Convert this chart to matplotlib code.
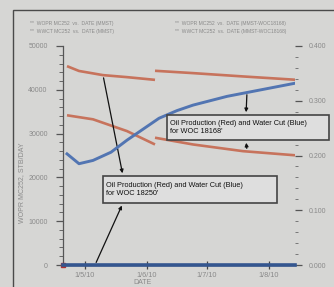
import matplotlib
matplotlib.use("Agg")
import matplotlib.pyplot as plt
import matplotlib.patches as mpatches
import pandas as pd
import numpy as np

W, H = 334, 287
plt.rcParams['font.family'] = ['Liberation Sans', 'DejaVu Sans']

# ---------------- data ----------------
# WOC 18250: oil production (two segments), water cut ~0
oil_a1_dates = ["2010-04-22", "2010-04-28", "2010-05-10", "2010-05-22", "2010-06-05"]
oil_a1 = [45400, 44300, 43350, 42890, 42270]
oil_a2_dates = ["2010-06-05", "2010-06-24", "2010-07-19", "2010-08-14"]
oil_a2 = [44340, 43810, 43050, 42300]
wct_a_dates = ["2010-04-20", "2010-08-14"]
wct_a = [0.0, 0.0]

# WOC 18168: oil production (two segments), rising water cut
oil_b1_dates = ["2010-04-22", "2010-05-05", "2010-05-22", "2010-06-05"]
oil_b1 = [34180, 33260, 30570, 27520]
oil_b2_dates = ["2010-06-05", "2010-06-24", "2010-07-19", "2010-08-14"]
oil_b2 = [29060, 27520, 25990, 25050]
wct_b_dates = ["2010-04-22", "2010-04-28", "2010-05-05", "2010-05-14", "2010-05-22",
               "2010-05-30", "2010-06-07", "2010-06-16", "2010-06-24", "2010-07-11",
               "2010-07-28", "2010-08-14"]
wct_b = [0.203, 0.185, 0.191, 0.206, 0.228, 0.248, 0.268, 0.282, 0.292, 0.308, 0.320, 0.332]

start_point_date = ["2010-04-20"]
start_point_val = [0]

xtick_dates = ["2010-05-01", "2010-06-01", "2010-07-01", "2010-08-01"]
xtick_labels = ["1/5/10", "1/6/10", "1/7/10", "1/8/10"]
left_ticks = [0, 10000, 20000, 30000, 40000, 50000]
left_labels = ["0", "10000", "20000", "30000", "40000", "50000"]
right_ticks = [0.0, 0.1, 0.2, 0.3, 0.4]
right_labels = ["0.000", "0.100", "0.200", "0.300", "0.400"]

legend_entries = ["**  WOPR MC252  vs.  DATE (MMST)",
                  "**  WWCT MC252  vs.  DATE (MMST)",
                  "**  WOPR MC252  vs.  DATE (MMST-WOC18168)",
                  "**  WWCT MC252  vs.  DATE (MMST-WOC18168)"]
box1_text = "Oil Production (Red) and Water Cut (Blue)\nfor WOC 18168'"
box2_text = "Oil Production (Red) and Water Cut (Blue)\nfor WOC 18250'"

d = lambda s: pd.to_datetime(s)

# ---------------- figure ----------------
bg = "#d6d6d4"
fig = plt.figure(figsize=(W / 100, H / 100), dpi=100, facecolor=bg)

def fx(x):
    return x / W

def fy(y):
    return 1 - y / H

ax_l, ax_r, ax_t, ax_b = 63, 295, 46, 265
ax = fig.add_axes([fx(ax_l), fy(ax_b), (ax_r - ax_l) / W, (ax_b - ax_t) / H])
ax.set_facecolor(bg)
ax2 = ax.twinx()

red = "#c7735c"
blue = "#5275b2"
tick_col = "#8a8a8a"

for dates, vals in ((oil_a1_dates, oil_a1), (oil_a2_dates, oil_a2),
                    (oil_b1_dates, oil_b1), (oil_b2_dates, oil_b2)):
    ax.plot(d(dates), vals, color=red, lw=1.9, solid_capstyle='butt', zorder=3)
ax.plot(d(start_point_date), start_point_val, 's', color="#b03030", ms=2.5, zorder=6, clip_on=False)
ax2.plot(d(wct_b_dates), wct_b, color=blue, lw=2.1, zorder=3)
ax2.plot(d(wct_a_dates), wct_a, color="#34568f", lw=2.6, zorder=5, clip_on=False)

ax.set_xlim(d("2010-04-20"), d("2010-08-14"))
ax.set_ylim(0, 50000)
ax2.set_ylim(0, 0.4)

ax.set_xticks(d(xtick_dates))
ax.set_xticklabels(xtick_labels)
ax.set_yticks(left_ticks)
ax.set_yticklabels(left_labels)
ax.set_yticks(np.arange(0, 50001, 2000), minor=True)
ax2.set_yticks(right_ticks)
ax2.set_yticklabels(right_labels)
ax2.set_yticks(np.arange(0, 0.4001, 0.02), minor=True)

for a in (ax, ax2):
    for s in a.spines.values():
        s.set_visible(False)
ax.spines['left'].set_visible(True)
ax.spines['left'].set_color("#555555")
ax.spines['left'].set_linewidth(0.9)
ax.spines['bottom'].set_visible(True)
ax.spines['bottom'].set_color("#333333")
ax.spines['bottom'].set_linewidth(1.0)

ax.tick_params(axis='y', which='major', direction='out', length=5, width=0.9,
               color="#555555", labelsize=5, labelcolor=tick_col, pad=6)
ax.tick_params(axis='y', which='minor', direction='out', length=3, width=0.7, color="#666666")
ax.tick_params(axis='x', which='major', direction='inout', length=6, width=0.9,
               color="#444444", labelsize=5.3, labelcolor=tick_col, pad=2)
ax.tick_params(axis='x', which='minor', length=0)
ax2.tick_params(axis='y', which='major', direction='out', length=5, width=0.9,
                color="#555555", labelsize=5, labelcolor=tick_col, pad=5)
ax2.tick_params(axis='y', which='minor', direction='out', length=2, width=0.7, color="#777777")

# axis titles
fig.text(fx(22), fy(183), "WOPR MC252, STB/DAY", rotation=90, ha='center', va='center',
         fontsize=5, color=tick_col)
fig.text(fx(143), fy(283), "DATE", ha='center', va='center', fontsize=5, color=tick_col)

# legend text
leg_pos = [(30, 23), (30, 31), (175, 23), (175, 31)]
for (lx, ly), t in zip(leg_pos, legend_entries):
    fig.text(fx(lx), fy(ly), t, ha='left', va='center', fontsize=3.6, color="#8a8a8a")

# outer frame (extends beyond the right and bottom edges)
frame = mpatches.Rectangle((fx(13), fy(400)), fx(500) - fx(13), fy(10) - fy(400),
                           transform=fig.transFigure, fill=False, ec="#4a4a4a", lw=1.0)
fig.patches.append(frame)

# annotation boxes
def box(x0, y0, x1, y1, text):
    r = mpatches.Rectangle((fx(x0), fy(y1)), fx(x1) - fx(x0), fy(y0) - fy(y1),
                           transform=fig.transFigure, fc="#dedede", ec="#444444", lw=1.2, zorder=10)
    fig.patches.append(r)
    fig.text(fx(x0 + 3), fy((y0 + y1) / 2), text, ha='left', va='center', fontsize=5.3,
             color="#111111", linespacing=1.25, zorder=11)

box(167, 115, 329, 140, box1_text)
box(103, 176, 277, 203, box2_text)

arrow_kw = dict(arrowstyle='-|>', color="#111111", lw=0.9, mutation_scale=5)
# box 1 arrows (to blue WOC18168 curve and lower red curve)
ax2.annotate("", xy=(fx(246), fy(115)), xycoords='figure fraction',
             xytext=(d("2010-07-21"), 0.316), textcoords='data', arrowprops=arrow_kw)
ax.annotate("", xy=(fx(246), fy(140)), xycoords='figure fraction',
            xytext=(d("2010-07-21"), 26000), textcoords='data', arrowprops=arrow_kw)
# box 2 arrows (to upper red curve and zero water cut)
ax.annotate("", xy=(fx(123), fy(176)), xycoords='figure fraction',
            xytext=(d("2010-05-10"), 43350), textcoords='data', arrowprops=arrow_kw)
ax2.annotate("", xy=(fx(123), fy(203)), xycoords='figure fraction',
             xytext=(d("2010-05-06"), 0.0), textcoords='data', arrowprops=arrow_kw)

fig.savefig("out.png", dpi=100, facecolor=bg)
